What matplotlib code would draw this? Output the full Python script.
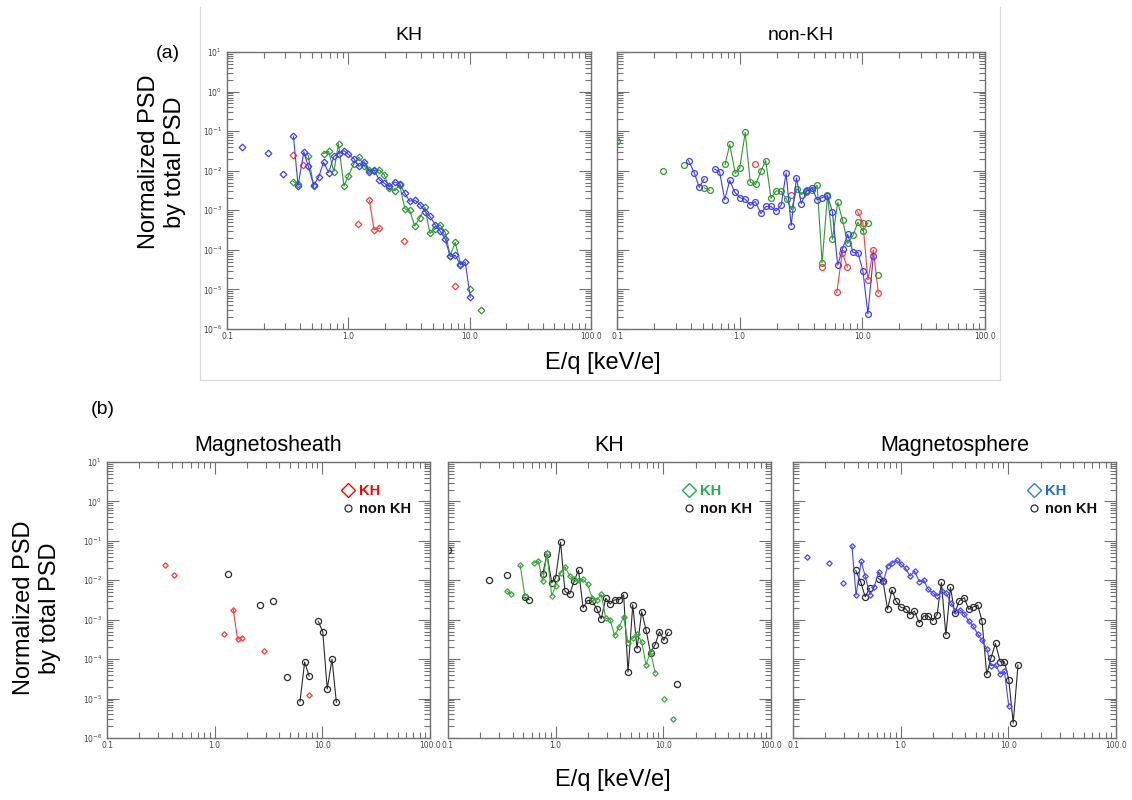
import numpy as np
import matplotlib.pyplot as plt
from matplotlib.lines import Line2D
from matplotlib.ticker import LogLocator, NullFormatter

nan = np.nan

# Magnetosheath ions, KH intervals
sheath_kh_e = [0.348, nan, 0.42, nan, 1.21, nan, 1.49, 1.63, 1.80, nan, 2.88, nan, 7.55]
sheath_kh_psd = [2.5e-2, nan, 1.4e-2, nan, 4.4e-4, nan, 1.8e-3, 3.2e-4, 3.5e-4, nan, 1.65e-4, nan, 1.25e-5]

# Magnetosheath ions, non-KH intervals
sheath_non_e = [1.33, nan, 2.62, nan, 3.5, nan, 4.68, nan, 6.2, 6.85, 7.55, nan,
                9.15, 10.1, 11.1, 12.3, 13.5]
sheath_non_psd = [1.45e-2, nan, 2.4e-3, nan, 2.9e-3, nan, 3.6e-5, nan, 8.4e-6, 8.4e-5, 3.7e-5, nan,
                  9.2e-4, 4.9e-4, 1.75e-5, 1.0e-4, 8.0e-6]

# boundary layer (KH) ions, KH intervals
kh_kh_e = [0.353, 0.385, nan, 0.468, 0.518, nan, 0.625, 0.688, 0.76, 0.83, 0.92, 1.0, 1.11,
           1.22, 1.35, 1.49, 1.63, 1.80, 1.98, 2.18, 2.41, 2.65, 2.92, 3.2, 3.53, 3.89, 4.28,
           4.7, 5.2, 5.7, 6.3, 6.9, 7.6, 8.4, nan, 10.1, nan, 12.3]
kh_kh_psd = [5.3e-3, 4.5e-3, nan, 2.4e-2, 4.0e-3, nan, 2.7e-2, 3.1e-2, 9.5e-3, 4.8e-2, 4.1e-3,
             7.2e-3, 1.5e-2, 2.2e-2, 1.3e-2, 1.05e-2, 1.0e-2, 1.05e-2, 7.9e-3, 3.6e-3, 3.1e-3,
             4.4e-3, 1.1e-3, 1.0e-3, 4.0e-4, 6.5e-4, 1.2e-3, 2.6e-4, 3.4e-4, 4.3e-4, 2.75e-4,
             7.1e-5, 1.55e-4, 4.5e-5, nan, 1.0e-5, nan, 3.1e-6]

# boundary layer (KH) ions, non-KH intervals
kh_non_e = [0.1, nan, 0.238, nan, 0.35, nan, 0.515, 0.569, nan, 0.76, 0.83, 0.92, 1.0, 1.11,
            1.22, 1.35, 1.49, 1.63, 1.80, 1.98, 2.18, 2.41, 2.65, 2.92, 3.2, 3.53, 3.89, 4.28,
            4.7, 5.2, 5.7, 6.3, 6.9, 7.6, 8.4, 9.2, 10.1, 11.1, nan, 13.5]
kh_non_psd = [5.8e-2, nan, 1.0e-2, nan, 1.4e-2, nan, 3.7e-3, 3.2e-3, nan, 1.45e-2, 4.6e-2,
              8.6e-3, 1.15e-2, 9.3e-2, 5.2e-3, 4.5e-3, 9.8e-3, 1.8e-2, 2.0e-3, 3.1e-3, 3.0e-3,
              1.9e-3, 1.05e-3, 3.5e-3, 2.5e-3, 3.2e-3, 3.2e-3, 4.3e-3, 4.7e-5, 2.4e-3, 1.85e-4,
              1.6e-3, 5.6e-4, 1.45e-4, 2.35e-4, 5.0e-4, 3.0e-4, 4.8e-4, nan, 2.3e-5]

# Magnetosphere ions, KH intervals
sphere_kh_e = [0.134, nan, 0.218, nan, 0.289, nan, 0.353, 0.385, 0.43, 0.468, 0.518, 0.569,
               0.625, 0.688, 0.76, 0.83, 0.92, 1.0, 1.11, 1.22, 1.35, 1.49, 1.63, 1.80, 1.98,
               2.18, 2.41, 2.65, 2.92, 3.2, 3.53, 3.89, 4.28, 4.7, 5.2, 5.7, 6.3, 6.9, 7.6,
               8.4, 9.2, 10.1]
sphere_kh_psd = [3.9e-2, nan, 2.8e-2, nan, 8.3e-3, nan, 7.4e-2, 4.2e-3, 3.0e-2, 1.28e-2,
                 4.3e-3, 6.9e-3, 1.64e-2, 9.0e-3, 2.3e-2, 2.7e-2, 3.2e-2, 2.6e-2, 2.0e-2,
                 1.28e-2, 1.7e-2, 9.2e-3, 1.03e-2, 5.9e-3, 4.8e-3, 4.0e-3, 5.2e-3, 4.7e-3,
                 2.7e-3, 1.7e-3, 1.8e-3, 1.4e-3, 9.3e-4, 7.0e-4, 4.3e-4, 3.0e-4, 1.86e-4,
                 6.8e-5, 7.3e-5, 4.2e-5, 4.9e-5, 6.4e-6]

# Magnetosphere ions, non-KH intervals
sphere_non_e = [0.383, 0.426, 0.468, 0.514, nan, 0.624, 0.686, 0.755, 0.83, 0.91, 1.0, 1.11,
                1.22, 1.34, 1.49, 1.64, 1.80, 1.98, 2.18, 2.39, 2.63, 2.9, 3.18, 3.5, 3.9,
                4.28, 4.7, 5.2, 5.7, 6.3, 6.9, 7.6, 8.4, 9.2, 10.1, 11.1, 12.3]
sphere_non_psd = [1.78e-2, 9.0e-3, 3.8e-3, 6.2e-3, nan, 1.1e-2, 9.4e-3, 1.84e-3, 5.7e-3,
                  2.9e-3, 2.1e-3, 1.9e-3, 1.35e-3, 1.66e-3, 8.3e-4, 1.25e-3, 1.25e-3, 9.5e-4,
                  1.35e-3, 8.8e-3, 4.1e-4, 6.6e-3, 1.46e-3, 3.0e-3, 3.6e-3, 1.84e-3, 2.1e-3,
                  2.35e-3, 9.1e-4, 4.1e-5, 1.07e-4, 2.5e-4, 8.6e-5, 8.5e-5, 3.0e-5, 2.4e-6, 7.1e-5]

xtick_vals = [0.1, 1, 10, 100]
xtick_labels = ["0.1", "1.0", "10.0", "100.0"]

RED = "#ff3a3a"
GREEN = "#2e9a2e"
BLUE = "#3c3cff"
BLACK = "#2a2a2a"

SANS = ["Liberation Sans", "DejaVu Sans"]


def style_axes(ax, ylabels=True):
    ax.set_xscale("log")
    ax.set_yscale("log")
    ax.set_xlim(0.1, 100)
    ax.set_ylim(1e-6, 10)
    ax.set_xticks(xtick_vals)
    ax.set_xticklabels(xtick_labels)
    ax.xaxis.set_minor_locator(LogLocator(base=10, subs=np.arange(2, 10), numticks=20))
    ax.yaxis.set_major_locator(LogLocator(base=10, numticks=20))
    ax.yaxis.set_minor_locator(LogLocator(base=10, subs=np.arange(2, 10), numticks=20))
    ax.xaxis.set_minor_formatter(NullFormatter())
    ax.yaxis.set_minor_formatter(NullFormatter())
    ax.tick_params(which="both", direction="in", top=True, right=True,
                   color="#707070", labelcolor="#444444", labelsize=5.5, width=0.8)
    ax.tick_params(axis="x", pad=2.5)
    ax.tick_params(axis="y", pad=3.5)
    ax.tick_params(which="major", length=8.5)
    ax.tick_params(which="minor", length=4.2)
    if not ylabels:
        ax.tick_params(axis="y", labelleft=False)
    for s in ax.spines.values():
        s.set_color("#707070")
        s.set_linewidth(1.0)


def draw(ax, e, psd, color, marker, ms):
    ax.plot(e, psd, color=color, lw=0.8, marker=marker, ms=ms,
            mfc="none", mec=color, mew=0.9)


fig = plt.figure(figsize=(11.32, 8), dpi=100)
W, H = 1132, 800


def add_ax(x0, y0, x1, y1):
    return fig.add_axes([x0 / W, 1 - y1 / H, (x1 - x0) / W, (y1 - y0) / H])


# ---- panel (a)
axa1 = add_ax(227, 52, 591, 329)
axa2 = add_ax(617, 52, 985, 329)
style_axes(axa1)
style_axes(axa2, ylabels=False)

draw(axa1, sheath_kh_e, sheath_kh_psd, RED, "D", 3.4)
draw(axa1, kh_kh_e, kh_kh_psd, GREEN, "D", 3.4)
draw(axa1, sphere_kh_e, sphere_kh_psd, BLUE, "D", 3.4)

draw(axa2, sheath_non_e, sheath_non_psd, RED, "o", 4.2)
draw(axa2, kh_non_e, kh_non_psd, GREEN, "o", 4.2)
draw(axa2, sphere_non_e, sphere_non_psd, BLUE, "o", 4.2)

axa1.set_title("KH", fontsize=14, family=SANS, pad=9)
axa2.set_title("non-KH", fontsize=14, family=SANS, pad=9)

# light frame around panel (a)
for xs, ys in [((200, 200), (7, 380)), ((1000, 1000), (7, 380)), ((200, 1000), (380, 380))]:
    fig.add_artist(Line2D([x / W for x in xs], [1 - y / H for y in ys],
                          transform=fig.transFigure, color="#dadada", lw=0.9))

fig.text(168 / W, 1 - 53 / H, "(a)", fontsize=14, family=SANS, ha="center", va="center")
fig.text(162 / W, 1 - 162 / H, "Normalized PSD\nby total PSD", rotation=90, fontsize=17,
         family=SANS, ha="center", va="center", multialignment="center", linespacing=1.2)
fig.text(603 / W, 1 - 363 / H, "E/q [keV/e]", fontsize=17, family=SANS, ha="center", va="center")

# ---- panel (b)
axb1 = add_ax(107, 462, 430, 738)
axb2 = add_ax(448, 462, 771, 738)
axb3 = add_ax(793, 462, 1116, 738)
style_axes(axb1)
style_axes(axb2, ylabels=False)
style_axes(axb3, ylabels=False)

panels = [
    (axb1, "Magnetosheath", sheath_kh_e, sheath_kh_psd, sheath_non_e, sheath_non_psd,
     RED, "#ff0000", "#ff0000"),
    (axb2, "KH", kh_kh_e, kh_kh_psd, kh_non_e, kh_non_psd,
     "#3aa83a", "#22b04c", "#22b04c"),
    (axb3, "Magnetosphere", sphere_kh_e, sphere_kh_psd, sphere_non_e, sphere_non_psd,
     "#4646ff", "#2f7fd8", "#1f70c8"),
]
for ax, title, ke, kp, ne, npsd, kcol, lcol, tcol in panels:
    draw(ax, ne, npsd, BLACK, "o", 4.4)
    draw(ax, ke, kp, kcol, "D", 2.8)
    ax.set_title(title, fontsize=15.5, family=SANS, pad=8)
    handles = [
        Line2D([], [], ls="none", marker="D", ms=7, mfc="none", mec=lcol, mew=1.0),
        Line2D([], [], ls="none", marker="o", ms=5, mfc="none", mec=BLACK, mew=0.9),
    ]
    ax.legend(handles, ["KH", "non KH"], loc="upper right", bbox_to_anchor=(0.965, 0.945),
              frameon=False, handlelength=1.0, handletextpad=0.3, labelspacing=0.25,
              borderpad=0, labelcolor=[tcol, "#111111"],
              prop={"family": SANS, "weight": "bold", "size": 10.5})

fig.text(103 / W, 1 - 410 / H, "(b)", fontsize=14, family=SANS, ha="center", va="center")
fig.text(37 / W, 1 - 608 / H, "Normalized PSD\nby total PSD", rotation=90, fontsize=17,
         family=SANS, ha="center", va="center", multialignment="center", linespacing=1.2)
fig.text(613 / W, 1 - 780 / H, "E/q [keV/e]", fontsize=17, family=SANS, ha="center", va="center")

fig.savefig("out.png", dpi=100)
